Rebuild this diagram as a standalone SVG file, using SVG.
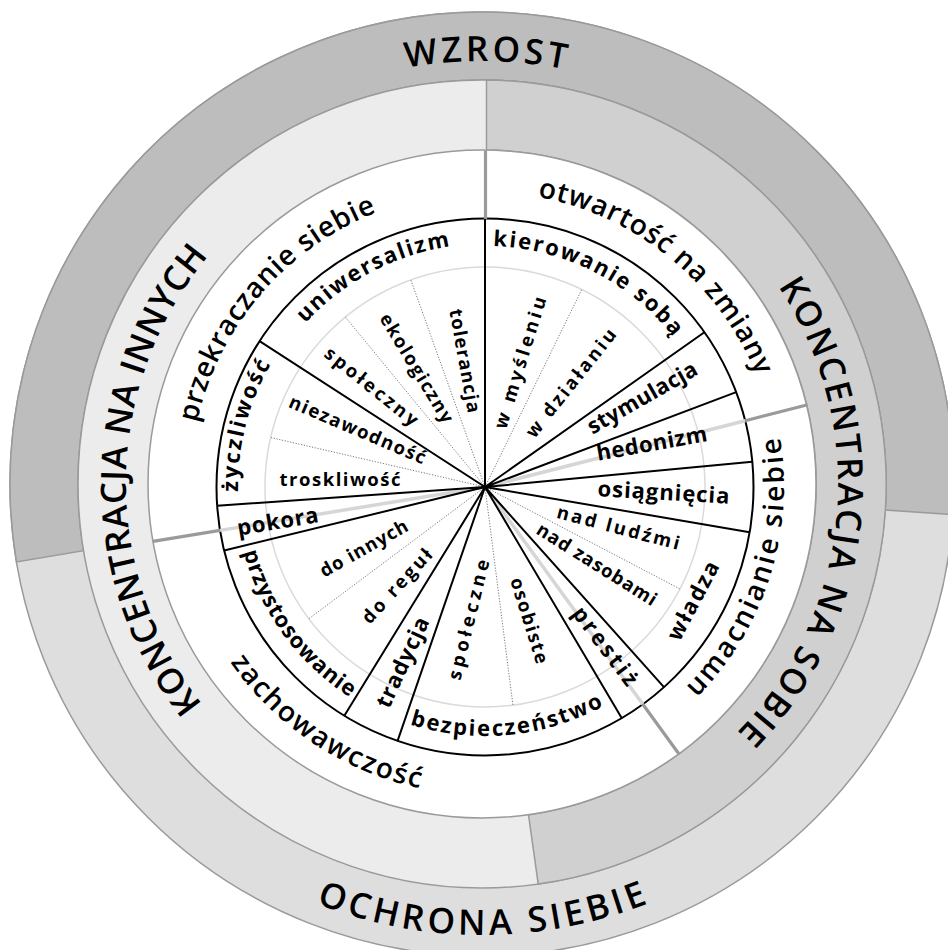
<svg xmlns="http://www.w3.org/2000/svg" width="948" height="950" viewBox="0 0 948 950">
<style>
.ring{stroke:#9a9a9a;stroke-width:1.5}
.gthick{stroke:#9a9a9a;stroke-width:3.2;fill:none}
.glight{stroke:#d6d6d6;stroke-width:3.5;fill:none}
.spoke{stroke:#000;stroke-width:2;fill:none}
.dot{stroke:#555;stroke-width:0.8;stroke-dasharray:1.2 1.6;fill:none}
text{font-family:"Open Sans","Noto Sans","DejaVu Sans",sans-serif;fill:#000;text-anchor:middle}
.big{font-size:35px;font-weight:600}
.sec{font-size:28px;font-weight:600}
.val{font-size:22px;font-weight:bold}
.sub{font-size:18.5px;font-weight:bold}
</style>
<defs>
<path id="pWzrost" d="M212.94,157.60 A423,423 0 0 1 756.72,162.35"/>
<path id="pOchrona" d="M136.51,773.90 A451,451 0 0 0 827.49,773.90"/>
<path id="pInnych" d="M299.70,789.78 A356,356 0 0 1 308.32,173.24"/>
<path id="pSobie" d="M687.72,193.45 A356,356 0 0 1 630.76,807.43"/>
<path id="pPrzekr" d="M206.86,584.14 A294,294 0 0 1 537.58,196.92"/>
<path id="pOtw" d="M379.84,211.07 A294,294 0 0 1 774.18,533.26"/>
<path id="pUmac" d="M547.65,779.17 A300,300 0 0 0 706.07,284.29"/>
<path id="pZach" d="M175.61,466.60 A309,309 0 0 0 621.39,762.77"/>
<path id="pUniw" d="M242.15,478.52 A243,243 0 0 1 613.77,280.92"/>
<path id="pKier" d="M352.52,285.68 A241,241 0 0 1 725.59,472.92"/>
<path id="pZycz" d="M312.39,663.68 A247,247 0 0 1 418.37,249.16"/>
<path id="pPrzyst" d="M256.35,385.91 A250,250 0 0 0 511.78,735.56"/>
<path id="pBezp" d="M282.13,631.39 A249,249 0 0 0 711.49,590.45"/>
</defs>

<g id="outer-ring">
<circle cx="482" cy="484" r="472" fill="#dedede" class="ring"/>
<path d="M16.47,561.90 A472,472 0 1 1 953.02,514.46 L885.16,510.07 A404,404 0 1 0 83.54,550.68 Z" fill="#bdbdbd" class="ring"/>
</g>
<g id="middle-ring">
<circle cx="482" cy="484" r="404" fill="#ececec" class="ring"/>
<path d="M486.5,80 A404,404 0 0 1 538.23,884.07 L528.48,814.75 A334,334 0 0 0 486.5,150 Z" fill="#d0d0d0" class="ring"/>
</g>
<g id="white-ring">
<circle cx="482" cy="484" r="334" fill="#ffffff" class="ring"/>
</g>

<g id="wheel">
<circle cx="485" cy="487" r="268.5" fill="#ffffff" stroke="#000" stroke-width="2"/>
<circle cx="485" cy="487" r="220" fill="none" stroke="#dadada" stroke-width="1.5"/>
</g>

<g id="connectors">
<path class="glight" d="M485,487 L745.18,420.68 M485,487 L642.82,704.22 M485,487 L220.03,530.39"/>
<path class="dot" d="M485,487 L581.8,289.43 M485,487 L679.96,588.93 M485,487 L512.95,705.22 M485,487 L308.84,618.78 M485,487 L270.64,437.51 M485,487 L345.31,317.04 M485,487 L410.84,279.88"/>
<path class="spoke" d="M485,487 L485,218.5 M485,487 L704.39,332.23 M485,487 L736.17,392.09 M485,487 L752.31,461.73 M485,487 L749.66,532.24 M485,487 L663.96,687.16 M485,487 L621.68,718.11 M485,487 L397.58,740.87 M485,487 L344.31,715.69 M485,487 L224.14,550.59 M485,487 L217.15,505.73 M485,487 L259.56,341.16"/>
<path class="gthick" d="M485.5,219 L485.5,150.5 M745.18,420.68 L807.68,404.75 M642.82,704.22 L678.97,753.98 M220.03,530.39 L152.92,541.38"/>
</g>

<g id="label-wzrost"><text class="big"><textPath href="#pWzrost" startOffset="50%" textLength="160" lengthAdjust="spacing">WZROST</textPath></text></g>
<g id="label-ochrona"><text class="big"><textPath href="#pOchrona" startOffset="50%" textLength="340" lengthAdjust="spacing">OCHRONA SIEBIE</textPath></text></g>
<g id="label-innych"><text class="big"><textPath href="#pInnych" startOffset="50%" textLength="485" lengthAdjust="spacing">KONCENTRACJA NA INNYCH</textPath></text></g>
<g id="label-sobie"><text class="big"><textPath href="#pSobie" startOffset="50%" textLength="485" lengthAdjust="spacing">KONCENTRACJA NA SOBIE</textPath></text></g>

<g id="sector-przekraczanie"><text class="sec"><textPath href="#pPrzekr" startOffset="50%" textLength="288" lengthAdjust="spacing">przekraczanie siebie</textPath></text></g>
<g id="sector-otwartosc"><text class="sec"><textPath href="#pOtw" startOffset="50%" textLength="295" lengthAdjust="spacing">otwartość na zmiany</textPath></text></g>
<g id="sector-umacnianie"><text class="sec"><textPath href="#pUmac" startOffset="50%" textLength="284" lengthAdjust="spacing">umacnianie siebie</textPath></text></g>
<g id="sector-zachowawczosc"><text class="sec"><textPath href="#pZach" startOffset="50%" textLength="233" lengthAdjust="spacing">zachowawczość</textPath></text></g>

<g id="v-uniwersalizm"><text class="val"><textPath href="#pUniw" startOffset="50%" textLength="167" lengthAdjust="spacing">uniwersalizm</textPath></text></g>
<g id="v-kierowanie"><text class="val"><textPath href="#pKier" startOffset="50%" textLength="208" lengthAdjust="spacing">kierowanie sobą</textPath></text></g>
<g id="v-zyczliwosc"><text class="val"><textPath href="#pZycz" startOffset="50%" textLength="133" lengthAdjust="spacing">życzliwość</textPath></text></g>
<g id="v-przystosowanie"><text class="val"><textPath href="#pPrzyst" startOffset="50%" textLength="184" lengthAdjust="spacing">przystosowanie</textPath></text></g>
<g id="v-bezpieczenstwo"><text class="val"><textPath href="#pBezp" startOffset="50%" textLength="200" lengthAdjust="spacing">bezpieczeństwo</textPath></text></g>
<g id="v-tradycja"><text class="val" transform="translate(404,663) rotate(-65)" dy="0.27em" textLength="97" lengthAdjust="spacing">tradycja</text></g>
<g id="v-prestiz"><text class="val" transform="translate(604,647) rotate(53)" dy="0.27em" textLength="93" lengthAdjust="spacing">prestiż</text></g>
<g id="v-wladza"><text class="val" transform="translate(694.5,601.5) rotate(-62)" dy="0.27em" textLength="86" lengthAdjust="spacing">władza</text></g>
<g id="v-pokora"><text class="val" transform="translate(278,523) rotate(-9.5)" dy="0.27em" textLength="82" lengthAdjust="spacing">pokora</text></g>
<g id="v-osiagniecia"><text class="val" transform="translate(663.5,494) rotate(3.3)" dy="0.27em" textLength="132" lengthAdjust="spacing">osiągnięcia</text></g>
<g id="v-hedonizm"><text class="val" transform="translate(652,445) rotate(-10.3)" dy="0.27em" textLength="112" lengthAdjust="spacing">hedonizm</text></g>
<g id="v-stymulacja"><text class="val" transform="translate(643,399) rotate(-29.7)" dy="0.27em" textLength="123" lengthAdjust="spacing">stymulacja</text></g>

<g id="s-troskliwosc"><text class="sub" transform="translate(340,481) rotate(0)" dy="0.27em" textLength="121" lengthAdjust="spacing">troskliwość</text></g>
<g id="s-niezawodnosc"><text class="sub" transform="translate(357,431) rotate(23.2)" dy="0.27em" textLength="147" lengthAdjust="spacing">niezawodność</text></g>
<g id="s-spoleczny"><text class="sub" transform="translate(370.5,387.5) rotate(38.7)" dy="0.27em" textLength="114" lengthAdjust="spacing">społeczny</text></g>
<g id="s-ekologiczny"><text class="sub" transform="translate(415.5,368.8) rotate(58.8)" dy="0.27em" textLength="124" lengthAdjust="spacing">ekologiczny</text></g>
<g id="s-tolerancja"><text class="sub" transform="translate(463.5,361) rotate(79.8)" dy="0.27em" textLength="105" lengthAdjust="spacing">tolerancja</text></g>
<g id="s-wmysleniu"><text class="sub" transform="translate(521.5,363) rotate(-72.8)" dy="0.27em" textLength="137" lengthAdjust="spacing">w myśleniu</text></g>
<g id="s-wdzialaniu"><text class="sub" transform="translate(572,384) rotate(-51.5)" dy="0.27em" textLength="133" lengthAdjust="spacing">w działaniu</text></g>
<g id="s-nadludzmi"><text class="sub" transform="translate(618,529) rotate(14.7)" dy="0.27em" textLength="126" lengthAdjust="spacing">nad ludźmi</text></g>
<g id="s-nadzasobami"><text class="sub" transform="translate(596,565.5) rotate(32.1)" dy="0.27em" textLength="138" lengthAdjust="spacing">nad zasobami</text></g>
<g id="s-osobiste"><text class="sub" transform="translate(528,621) rotate(72.6)" dy="0.27em" textLength="89" lengthAdjust="spacing">osobiste</text></g>
<g id="s-spoleczne"><text class="sub" transform="translate(470,620) rotate(-76.2)" dy="0.27em" textLength="123" lengthAdjust="spacing">społeczne</text></g>
<g id="s-doregul"><text class="sub" transform="translate(398,587) rotate(-47.4)" dy="0.27em" textLength="94" lengthAdjust="spacing">do reguł</text></g>
<g id="s-doinnych"><text class="sub" transform="translate(364.5,549.5) rotate(-29.2)" dy="0.27em" textLength="98" lengthAdjust="spacing">do innych</text></g>
</svg>
